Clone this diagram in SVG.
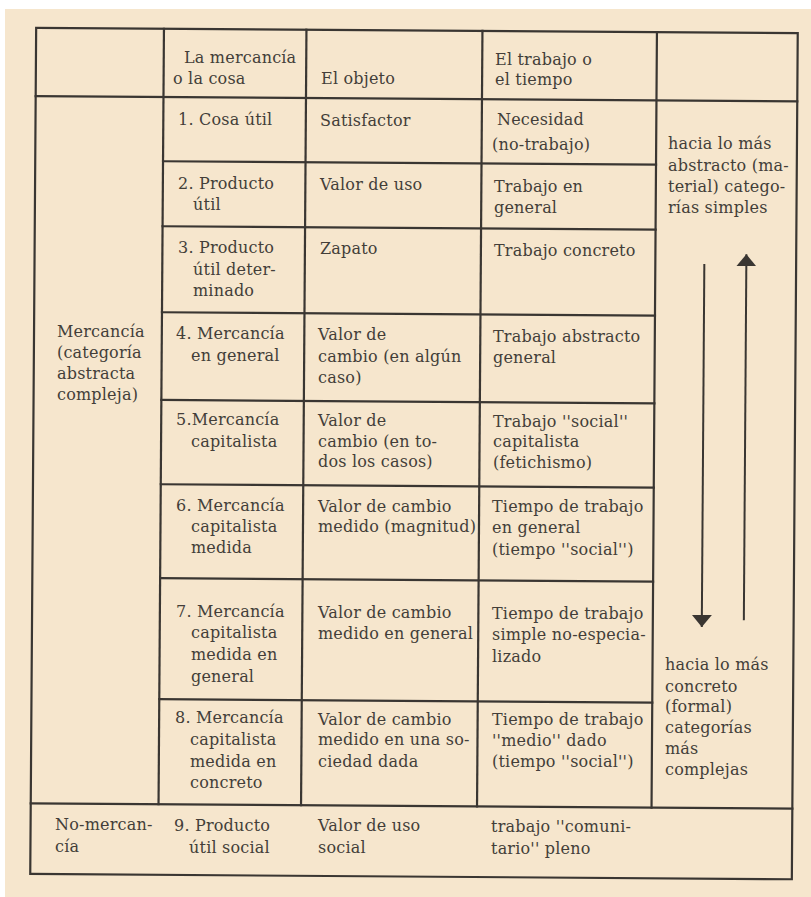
<svg xmlns="http://www.w3.org/2000/svg" width="811" height="897" viewBox="0 0 811 897">
<style>
.t{font-family:"DejaVu Serif","Liberation Serif",serif;font-size:16px;fill:#433e39;letter-spacing:0.2px}
.ln{stroke:#3a3632;stroke-width:2.2;fill:none;stroke-linecap:square}
.ar{stroke:#3a3632;stroke-width:2;fill:none}
</style>
<defs>
<marker id="ah" viewBox="0 0 12 20" refX="12" refY="10" markerWidth="12" markerHeight="20" markerUnits="userSpaceOnUse" orient="auto">
<path d="M0,0 L12,10 L0,20 Z" fill="#3a3632" transform="rotate(0)"/>
</marker>
</defs>
<rect width="811" height="897" fill="#ffffff"/>
<rect x="5" y="9" width="806" height="888" fill="#f6e6cd"/>
<g id="grid" transform="rotate(0.4 415 453)">
<rect class="ln" x="33.2" y="30.5" width="761.6" height="846.1"/>
<line class="ln" x1="33.2" y1="98.7" x2="794.8" y2="98.7"/>
<line class="ln" x1="33.2" y1="806" x2="794.8" y2="806"/>
<line class="ln" x1="161" y1="30.5" x2="161" y2="806"/>
<line class="ln" x1="303.5" y1="30.5" x2="303.5" y2="806"/>
<line class="ln" x1="479.5" y1="30.5" x2="479.5" y2="806"/>
<line class="ln" x1="654" y1="30.5" x2="654" y2="806"/>
<line class="ln" x1="161" y1="163" x2="654" y2="163"/>
<line class="ln" x1="161" y1="228" x2="654" y2="228"/>
<line class="ln" x1="161" y1="314" x2="654" y2="314"/>
<line class="ln" x1="161" y1="401.7" x2="654" y2="401.7"/>
<line class="ln" x1="161" y1="486" x2="654" y2="486"/>
<line class="ln" x1="161" y1="580" x2="654" y2="580"/>
<line class="ln" x1="161" y1="701" x2="654" y2="701"/>
</g>
<g id="connectors" transform="rotate(0.4 415 453)">
<line class="ar" x1="703" y1="262" x2="703" y2="625" marker-end="url(#ah)"/>
<line class="ar" x1="745" y1="618" x2="745" y2="252" marker-end="url(#ah)"/>
</g>
<g id="header">
<text class="t" x="184" y="63">La mercancía</text>
<text class="t" x="173" y="84">o la cosa</text>
<text class="t" x="321" y="84">El objeto</text>
<text class="t" x="495" y="65">El trabajo o</text>
<text class="t" x="495" y="85">el tiempo</text>
</g>
<g id="mercancia">
<text class="t" x="57" y="337">Mercancía</text>
<text class="t" x="57" y="358">(categoría</text>
<text class="t" x="57" y="379">abstracta</text>
<text class="t" x="57" y="400">compleja)</text>
</g>
<g id="row1">
<text class="t" x="178" y="125">1. Cosa útil</text>
<text class="t" x="320" y="126">Satisfactor</text>
<text class="t" x="497" y="125">Necesidad</text>
<text class="t" x="492" y="150">(no-trabajo)</text>
</g>
<g id="row2">
<text class="t" x="178" y="189">2. Producto</text>
<text class="t" x="193" y="210">útil</text>
<text class="t" x="320" y="190">Valor de uso</text>
<text class="t" x="494" y="192">Trabajo en</text>
<text class="t" x="494" y="213">general</text>
</g>
<g id="row3">
<text class="t" x="178" y="253">3. Producto</text>
<text class="t" x="193" y="275">útil deter-</text>
<text class="t" x="193" y="296">minado</text>
<text class="t" x="320" y="254">Zapato</text>
<text class="t" x="494" y="256">Trabajo concreto</text>
</g>
<g id="row4">
<text class="t" x="176" y="339">4. Mercancía</text>
<text class="t" x="191" y="361">en general</text>
<text class="t" x="318" y="340">Valor de</text>
<text class="t" x="318" y="362">cambio (en algún</text>
<text class="t" x="318" y="383">caso)</text>
<text class="t" x="493" y="342">Trabajo abstracto</text>
<text class="t" x="493" y="363">general</text>
</g>
<g id="row5">
<text class="t" x="176" y="425">5.Mercancía</text>
<text class="t" x="191" y="447">capitalista</text>
<text class="t" x="318" y="426">Valor de</text>
<text class="t" x="318" y="447">cambio (en to-</text>
<text class="t" x="318" y="467">dos los casos)</text>
<text class="t" x="493" y="427">Trabajo ''social''</text>
<text class="t" x="493" y="447">capitalista</text>
<text class="t" x="493" y="468">(fetichismo)</text>
</g>
<g id="row6">
<text class="t" x="176" y="511">6. Mercancía</text>
<text class="t" x="191" y="532">capitalista</text>
<text class="t" x="191" y="553">medida</text>
<text class="t" x="318" y="512">Valor de cambio</text>
<text class="t" x="318" y="532">medido (magnitud)</text>
<text class="t" x="492" y="512">Tiempo de trabajo</text>
<text class="t" x="492" y="533">en general</text>
<text class="t" x="492" y="555">(tiempo ''social'')</text>
</g>
<g id="row7">
<text class="t" x="176" y="617">7. Mercancía</text>
<text class="t" x="191" y="638">capitalista</text>
<text class="t" x="191" y="660">medida en</text>
<text class="t" x="191" y="682">general</text>
<text class="t" x="318" y="618">Valor de cambio</text>
<text class="t" x="318" y="639">medido en general</text>
<text class="t" x="492" y="619">Tiempo de trabajo</text>
<text class="t" x="492" y="640">simple no-especia-</text>
<text class="t" x="492" y="662">lizado</text>
</g>
<g id="row8">
<text class="t" x="175" y="723">8. Mercancía</text>
<text class="t" x="190" y="745">capitalista</text>
<text class="t" x="190" y="767">medida en</text>
<text class="t" x="190" y="788">concreto</text>
<text class="t" x="318" y="725">Valor de cambio</text>
<text class="t" x="318" y="745">medido en una so-</text>
<text class="t" x="318" y="767">ciedad dada</text>
<text class="t" x="492" y="725">Tiempo de trabajo</text>
<text class="t" x="492" y="746">''medio'' dado</text>
<text class="t" x="492" y="767">(tiempo ''social'')</text>
</g>
<g id="row9">
<text class="t" x="55" y="830">No-mercan-</text>
<text class="t" x="55" y="852">cía</text>
<text class="t" x="174" y="831">9. Producto</text>
<text class="t" x="189" y="853">útil social</text>
<text class="t" x="318" y="831">Valor de uso</text>
<text class="t" x="318" y="853">social</text>
<text class="t" x="491" y="832">trabajo ''comuni-</text>
<text class="t" x="491" y="854">tario'' pleno</text>
</g>
<g id="abstracto">
<text class="t" x="668" y="149">hacia lo más</text>
<text class="t" x="668" y="171">abstracto (ma-</text>
<text class="t" x="668" y="192">terial) catego-</text>
<text class="t" x="668" y="213">rías simples</text>
</g>
<g id="concreto">
<text class="t" x="665" y="670">hacia lo más</text>
<text class="t" x="665" y="692">concreto</text>
<text class="t" x="665" y="712">(formal)</text>
<text class="t" x="665" y="733">categorías</text>
<text class="t" x="665" y="754">más</text>
<text class="t" x="665" y="775">complejas</text>
</g>
</svg>
